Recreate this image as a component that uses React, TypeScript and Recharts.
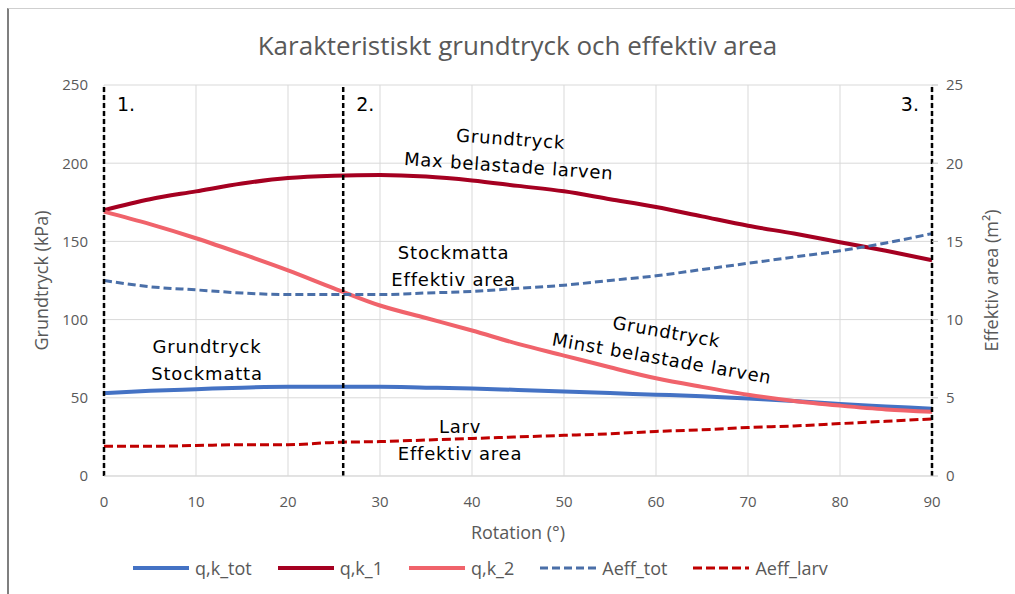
import {
  CartesianGrid,
  ComposedChart,
  Line,
  ReferenceDot,
  ReferenceLine,
  XAxis,
  YAxis,
} from 'recharts';

const degrees = [0, 5, 10, 15, 20, 25, 30, 35, 40, 45, 50, 55, 60, 65, 70, 75, 80, 85, 90];
const qkTot = [53, 54.5, 55.5, 56.5, 57, 57, 57, 56.5, 56, 55, 54, 53, 52, 51, 49.5, 48, 46, 44.5, 43];
const qk1 = [170, 177, 182, 187, 190.5, 192, 192.5, 191.5, 189, 185.5, 182, 177, 172, 166, 160, 155, 149.5, 144, 138];
const qk2 = [169, 161, 152, 142, 131.5, 120, 109, 101, 93, 84.5, 77, 69.5, 62.5, 57, 52, 48, 45, 42.5, 41];
const aeffTot = [12.5, 12.1, 11.9, 11.7, 11.6, 11.6, 11.6, 11.7, 11.8, 12.0, 12.2, 12.5, 12.8, 13.2, 13.6, 14.0, 14.4, 14.9, 15.5];
const aeffLarv = [1.9, 1.9, 1.95, 2.0, 2.0, 2.15, 2.2, 2.3, 2.4, 2.5, 2.6, 2.7, 2.85, 2.95, 3.1, 3.2, 3.35, 3.5, 3.65];

const xTicks = [0, 10, 20, 30, 40, 50, 60, 70, 80, 90];
const leftTicks = [0, 50, 100, 150, 200, 250];
const rightTicks = [0, 5, 10, 15, 20, 25];

// phase markers: rotation angle and label
const phases = [
  { x: 0, label: '1.', side: 'insideTopLeft' },
  { x: 26, label: '2.', side: 'insideTopLeft' },
  { x: 90, label: '3.', side: 'insideTopRight' },
];

// hand-drawn notes, anchored in data coordinates (deg, kPa)
const notes = [
  { x: 44.1, y: 207, lines: ['Grundtryck', 'Max belastade larven'], angle: 4 },
  { x: 38, y: 134, lines: ['Stockmatta', 'Effektiv area'], angle: 0 },
  { x: 60.9, y: 83.8, lines: ['Grundtryck', 'Minst belastade larven'], angle: 10 },
  { x: 11.2, y: 74, lines: ['Grundtryck', 'Stockmatta'], angle: 0 },
  { x: 38.7, y: 23, lines: ['Larv', 'Effektiv area'], angle: 0 },
];

const series = [
  { key: 'qkTot', name: 'q,k_tot', color: '#4472c4', width: 4, dash: undefined, axis: 'left' },
  { key: 'qk1', name: 'q,k_1', color: '#a50021', width: 4, dash: undefined, axis: 'left' },
  { key: 'qk2', name: 'q,k_2', color: '#f0636b', width: 4, dash: undefined, axis: 'left' },
  { key: 'aeffTot', name: 'Aeff_tot', color: '#4a6fa8', width: 3, dash: '8 4', axis: 'right' },
  { key: 'aeffLarv', name: 'Aeff_larv', color: '#c00000', width: 3, dash: '9 4', axis: 'right' },
];

const data = degrees.map((d, i) => ({
  deg: d,
  qkTot: qkTot[i],
  qk1: qk1[i],
  qk2: qk2[i],
  aeffTot: aeffTot[i],
  aeffLarv: aeffLarv[i],
}));

const gray = '#595959';
const uiFont = '"Open Sans", sans-serif';
const noteFont = '"DejaVu Sans", sans-serif';

function renderNote(props: any, note: { lines: string[]; angle: number }) {
  const vb = props.viewBox || {};
  const cx = vb.x + (vb.width || 0) / 2;
  const cy = vb.y + (vb.height || 0) / 2;
  const gap = 27;
  const start = -((note.lines.length - 1) * gap) / 2;
  return (
    <g transform={`rotate(${note.angle} ${cx} ${cy})`}>
      {note.lines.map((t, i) => (
        <text
          key={i}
          x={cx}
          y={cy + start + i * gap}
          textAnchor="middle"
          dominantBaseline="central"
          fontFamily={noteFont}
          fontSize={18}
          letterSpacing={0.8}
          fill="#000"
        >
          {t}
        </text>
      ))}
    </g>
  );
}

function axisTitle(text: string, x: number) {
  return (props: any) => {
    const vb = props.viewBox || {};
    const cy = vb.y + vb.height / 2;
    return (
      <text
        x={x}
        y={cy}
        transform={`rotate(-90 ${x} ${cy})`}
        textAnchor="middle"
        dominantBaseline="central"
        fontFamily={uiFont}
        fontSize={18}
        fill={gray}
      >
        {text}
      </text>
    );
  };
}

function LegendRow() {
  return (
    <div
      style={{
        position: 'absolute',
        left: 133,
        top: 554,
        display: 'flex',
        alignItems: 'center',
        gap: 26,
        fontFamily: uiFont,
        fontSize: 18,
        color: gray,
      }}
    >
      {series.map((s) => (
        <div key={s.key} style={{ display: 'flex', alignItems: 'center', gap: 6 }}>
          <svg width={56} height={28}>
            <line x1={0} y1={14} x2={56} y2={14} stroke={s.color} strokeWidth={s.width} strokeDasharray={s.dash} />
          </svg>
          <span>{s.name}</span>
        </div>
      ))}
    </div>
  );
}

export default function App() {
  return (
    <div
      style={{
        position: 'absolute',
        left: 0,
        top: 0,
        width: 1015,
        height: 594,
        overflow: 'hidden',
        background: '#fff',
      }}
    >
      <div
        style={{
          position: 'absolute',
          left: 7,
          top: 8,
          width: 1015,
          height: 600,
          borderLeft: '2px solid #7f7f7f',
          borderTop: '1px solid #cfcfcf',
        }}
      />
      <div
        style={{
          position: 'absolute',
          left: 0,
          width: 1035,
          top: 27,
          textAlign: 'center',
          fontFamily: uiFont,
          fontSize: 26,
          color: gray,
        }}
      >
        Karakteristiskt grundtryck och effektiv area
      </div>
      <div style={{ position: 'absolute', left: 0, top: 0 }}>
        <ComposedChart width={1015} height={594} data={data} margin={{ top: 85, right: 0, bottom: 0, left: 0 }}>
          <CartesianGrid stroke="#d9d9d9" yAxisId="left" horizontalValues={leftTicks} verticalValues={xTicks} />
          <XAxis
            dataKey="deg"
            type="number"
            domain={[0, 90]}
            ticks={xTicks}
            height={118}
            tickLine={false}
            axisLine={{ stroke: '#d9d9d9' }}
            tickMargin={14}
            tick={{ fill: gray, fontSize: 15, fontFamily: uiFont }}
            label={{ value: 'Rotation (°)', position: 'insideBottom', offset: 55, fill: gray, fontSize: 18, fontFamily: uiFont }}
          />
          <YAxis
            yAxisId="left"
            domain={[0, 250]}
            ticks={leftTicks}
            width={104}
            axisLine={false}
            tickLine={false}
            tickMargin={10}
            tick={{ fill: gray, fontSize: 15, fontFamily: uiFont }}
            label={{ content: axisTitle('Grundtryck (kPa)', 41) }}
          />
          <YAxis
            yAxisId="right"
            orientation="right"
            domain={[0, 25]}
            ticks={rightTicks}
            width={83}
            axisLine={false}
            tickLine={{ stroke: '#bfbfbf' }}
            tickSize={6}
            tickMargin={8}
            tick={{ fill: gray, fontSize: 15, fontFamily: uiFont, textAnchor: 'start' }}
            label={{ content: axisTitle('Effektiv area (m²)', 991) }}
          />
          {series.map((s) => (
            <Line
              key={s.key}
              yAxisId={s.axis}
              dataKey={s.key}
              name={s.name}
              type="monotone"
              stroke={s.color}
              strokeWidth={s.width}
              strokeDasharray={s.dash}
              dot={false}
              activeDot={false}
              isAnimationActive={false}
            />
          ))}
          {phases.map((p) => (
            <ReferenceLine
              key={p.label}
              yAxisId="left"
              x={p.x}
              stroke="#000"
              strokeWidth={2.5}
              strokeDasharray="5 3"
              label={{ value: p.label, position: p.side as any, offset: 13, fill: '#000', fontSize: 19, fontFamily: noteFont }}
            />
          ))}
          {notes.map((n, i) => (
            <ReferenceDot
              key={i}
              yAxisId="left"
              x={n.x}
              y={n.y}
              r={0}
              fill="none"
              stroke="none"
              label={(props: any) => renderNote(props, n)}
            />
          ))}
        </ComposedChart>
      </div>
      <LegendRow />
    </div>
  );
}
